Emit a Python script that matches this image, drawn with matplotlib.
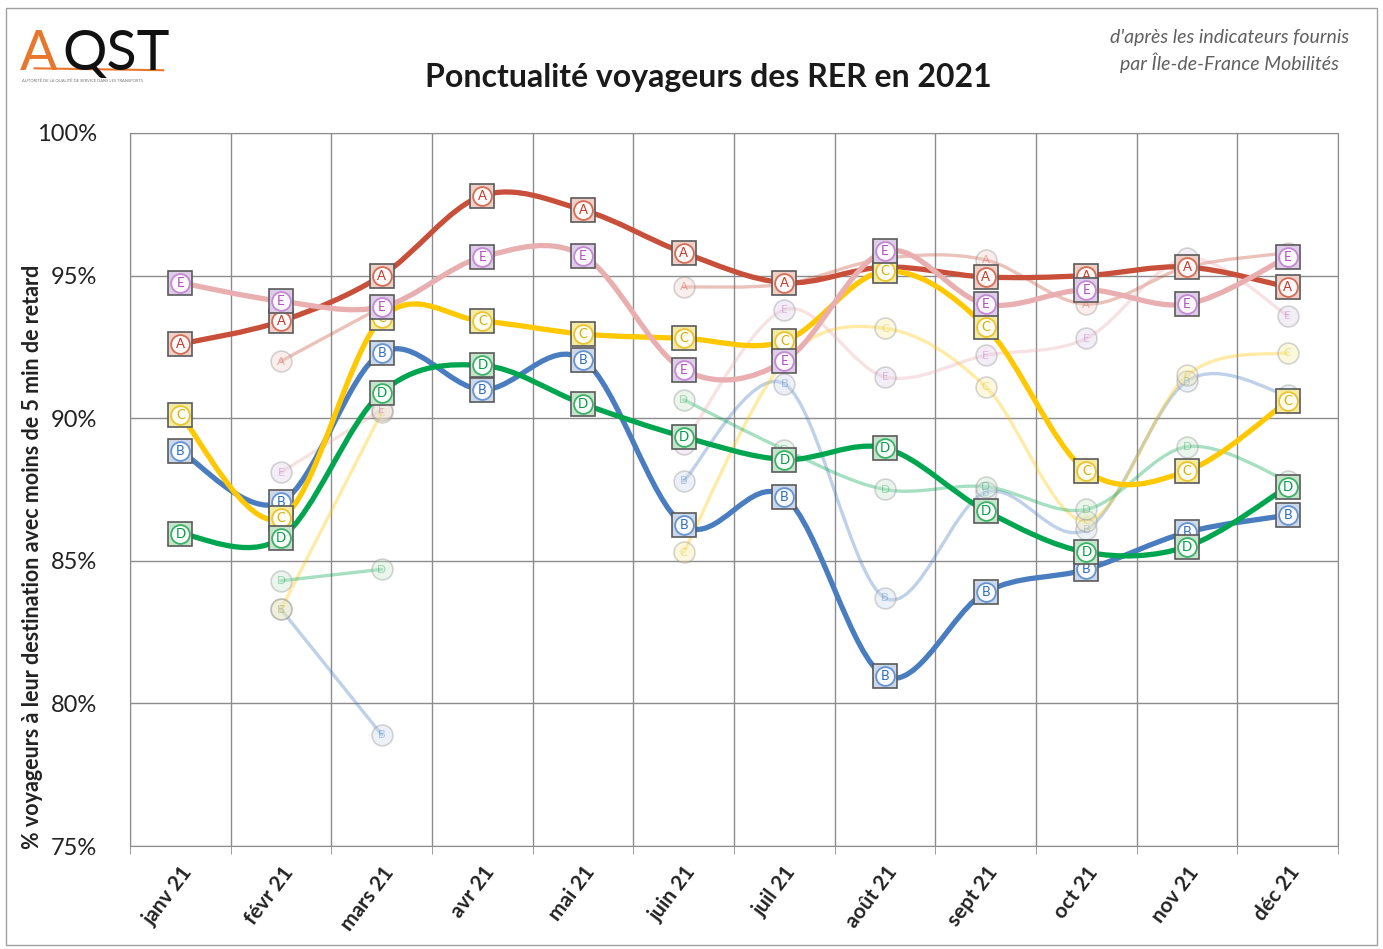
import numpy as np
import matplotlib
matplotlib.use('Agg')
import matplotlib.pyplot as plt
from matplotlib.path import Path
from matplotlib.patches import PathPatch, Rectangle

plt.rcParams['font.family'] = ['Lato', 'DejaVu Sans']

months = ['janv 21', 'févr 21', 'mars 21', 'avr 21', 'mai 21', 'juin 21',
          'juil 21', 'août 21', 'sept 21', 'oct 21', 'nov 21', 'déc 21']

# 2021 (traits pleins)
rer_a = [92.6, 93.4, 95.0, 97.8, 97.3, 95.8, 94.75, 95.3, 94.95, 95.0, 95.3, 94.6]
rer_b = [88.85, 87.05, 92.3, 91.0, 92.05, 86.25, 87.25, 80.95, 83.9, 84.7, 86.0, 86.6]
rer_c = [90.1, 86.5, 93.5, 93.4, 92.95, 92.8, 92.7, 95.15, 93.2, 88.15, 88.15, 90.6]
rer_d = [85.95, 85.8, 90.9, 91.85, 90.5, 89.35, 88.55, 88.95, 86.75, 85.3, 85.5, 87.6]
rer_e = [94.75, 94.1, 93.9, 95.65, 95.7, 91.7, 92.0, 95.85, 94.0, 94.5, 94.0, 95.65]

# 2020 (traits estompés, pas de données janv / avr / mai)
rer_a_prev = [None, 92.0, 93.9, None, None, 94.6, 94.7, 95.6, 95.55, 94.0, 95.3, 95.8]
rer_b_prev = [None, 83.3, 78.9, None, None, 87.8, 91.2, 83.7, 87.4, 86.1, 91.3, 90.8]
rer_c_prev = [None, 83.3, 90.2, None, None, 85.3, 92.0, 93.15, 91.1, 86.4, 91.5, 92.3]
rer_d_prev = [None, 84.3, 84.7, None, None, 90.65, 88.9, 87.5, 87.6, 86.8, 89.0, 87.8]
rer_e_prev = [None, 88.1, 90.3, None, None, 89.1, 93.8, 91.45, 92.2, 92.8, 95.6, 93.6]

letters = ['A', 'B', 'C', 'D', 'E']
line_col = ['#C8503A', '#4A7DC0', '#FFC800', '#00A550', '#E9AEB0']
txt_col = ['#C0392B', '#2E6DB8', '#D9B000', '#009A48', '#B050C0']
sq_fill = ['#EFCFC6', '#CBD8EC', '#F4EBA2', '#C4E5CB', '#DDCDE8']
ring_col = ['#D0604A', '#5A8ACB', '#E8C020', '#2AAA5A', '#C080D0']


def smooth(ax, vals, **kw):
    # courbe lissée type Excel (Bezier Catmull-Rom), coupée aux trous
    segs, cur = [], []
    for i, v in enumerate(vals):
        if v is None:
            if cur:
                segs.append(cur)
            cur = []
        else:
            cur.append((i, v))
    if cur:
        segs.append(cur)
    for seg in segs:
        pts = np.array(seg, dtype=float)
        n = len(pts)
        if n < 2:
            continue
        verts = [pts[0]]
        codes = [Path.MOVETO]
        for i in range(n - 1):
            p0 = pts[i - 1] if i > 0 else pts[i]
            p1 = pts[i]
            p2 = pts[i + 1]
            p3 = pts[i + 2] if i + 2 < n else pts[i + 1]
            verts += [p1 + (p2 - p0) / 6, p2 - (p3 - p1) / 6, p2]
            codes += [Path.CURVE4] * 3
        ax.add_patch(PathPatch(Path(verts, codes), fill=False, capstyle='round', **kw))


fig = plt.figure(figsize=(13.83, 9.49), dpi=100)
ax = fig.add_axes([0.094, 0.1085, 0.8735, 0.7514])
ax.set_xlim(-0.5, 11.5)
ax.set_ylim(75, 100)

ax.set_yticks(range(75, 101, 5))
ax.set_yticklabels([f'{v}%' for v in range(75, 101, 5)], fontsize=17, color='#222222')
ax.set_xticks(range(12))
ax.set_xticklabels(months, rotation=53, ha='right', rotation_mode='anchor',
                   fontsize=15, fontweight='bold', color='#222222')
ax.set_xticks(np.arange(-0.5, 12, 1), minor=True)
ax.tick_params(axis='x', which='major', length=0, pad=12)
ax.tick_params(axis='x', which='minor', length=6, color='#8c8c8c')
ax.tick_params(axis='y', length=0, pad=24)
ax.grid(which='minor', axis='x', color='#8c8c8c', lw=1)
ax.grid(which='major', axis='y', color='#8c8c8c', lw=1)
for s in ax.spines.values():
    s.set_color('#8c8c8c')
ax.set_axisbelow(True)

ax.set_ylabel('% voyageurs à leur destination avec moins de 5 min de retard',
              fontsize=15.5, fontweight='bold', color='#222222')
ax.yaxis.set_label_coords(-0.072, 0.405)

prev = [rer_a_prev, rer_b_prev, rer_c_prev, rer_d_prev, rer_e_prev]
cur = [rer_a, rer_b, rer_c, rer_d, rer_e]

# séries 2020 estompées
for k in range(5):
    smooth(ax, prev[k], color=line_col[k], lw=2.4, alpha=0.35, zorder=2)
for k in range(5):
    xs = [i for i, v in enumerate(prev[k]) if v is not None]
    ys = [v for v in prev[k] if v is not None]
    ax.plot(xs, ys, 'o', ms=15, mfc=sq_fill[k], mec='#8a8a8a', mew=1.2,
            alpha=0.35, zorder=3)
    for x, y in zip(xs, ys):
        ax.text(x, y, letters[k], ha='center', va='center', fontsize=8.5,
                color=txt_col[k], alpha=0.35, zorder=3)

# séries 2021
for k in range(5):
    z = 10 + 2 * k
    smooth(ax, cur[k], color=line_col[k], lw=3.8, zorder=z)
    xs = np.arange(12)
    ax.plot(xs, cur[k], 's', ms=17, mfc=sq_fill[k], mec='#5a5a5a', mew=1.2, zorder=z + 1)
    ax.plot(xs, cur[k], 'o', ms=13.5, mfc='#FFFFFF', mec=ring_col[k], mew=1.3,
            alpha=0.9, zorder=z + 1)
    for x, y in zip(xs, cur[k]):
        ax.text(x, y, letters[k], ha='center', va='center', fontsize=9.5,
                color=txt_col[k], zorder=z + 1)

# titre et mentions
fig.text(0.512, 0.918, 'Ponctualité voyageurs des RER en 2021', ha='center', va='center',
         fontsize=23, fontweight='bold', color='#1a1a1a')
fig.text(0.889, 0.961, "d'après les indicateurs fournis", ha='center', va='center',
         fontsize=14, style='italic', color='#606060')
fig.text(0.889, 0.934, 'par Île-de-France Mobilités', ha='center', va='center',
         fontsize=14, style='italic', color='#606060')

# logo AQST
fig.text(0.014, 0.926, 'A', fontsize=40, color='#E8762C', va='baseline', ha='left')
fig.text(0.045, 0.926, 'QST', fontsize=40, color='#111111', va='baseline', ha='left')
fig.add_artist(plt.Line2D([0.025, 0.118], [0.928, 0.926], color='#E8762C', lw=1.5))
fig.text(0.016, 0.914, 'AUTORITÉ DE LA QUALITÉ DE SERVICE DANS LES TRANSPORTS',
         fontsize=3, color='#777777', va='center', ha='left')

fig.add_artist(Rectangle((0.004, 0.004), 0.992, 0.988, transform=fig.transFigure,
                         fill=False, ec='#a0a0a0', lw=1))

fig.savefig('out.png', dpi=100)
